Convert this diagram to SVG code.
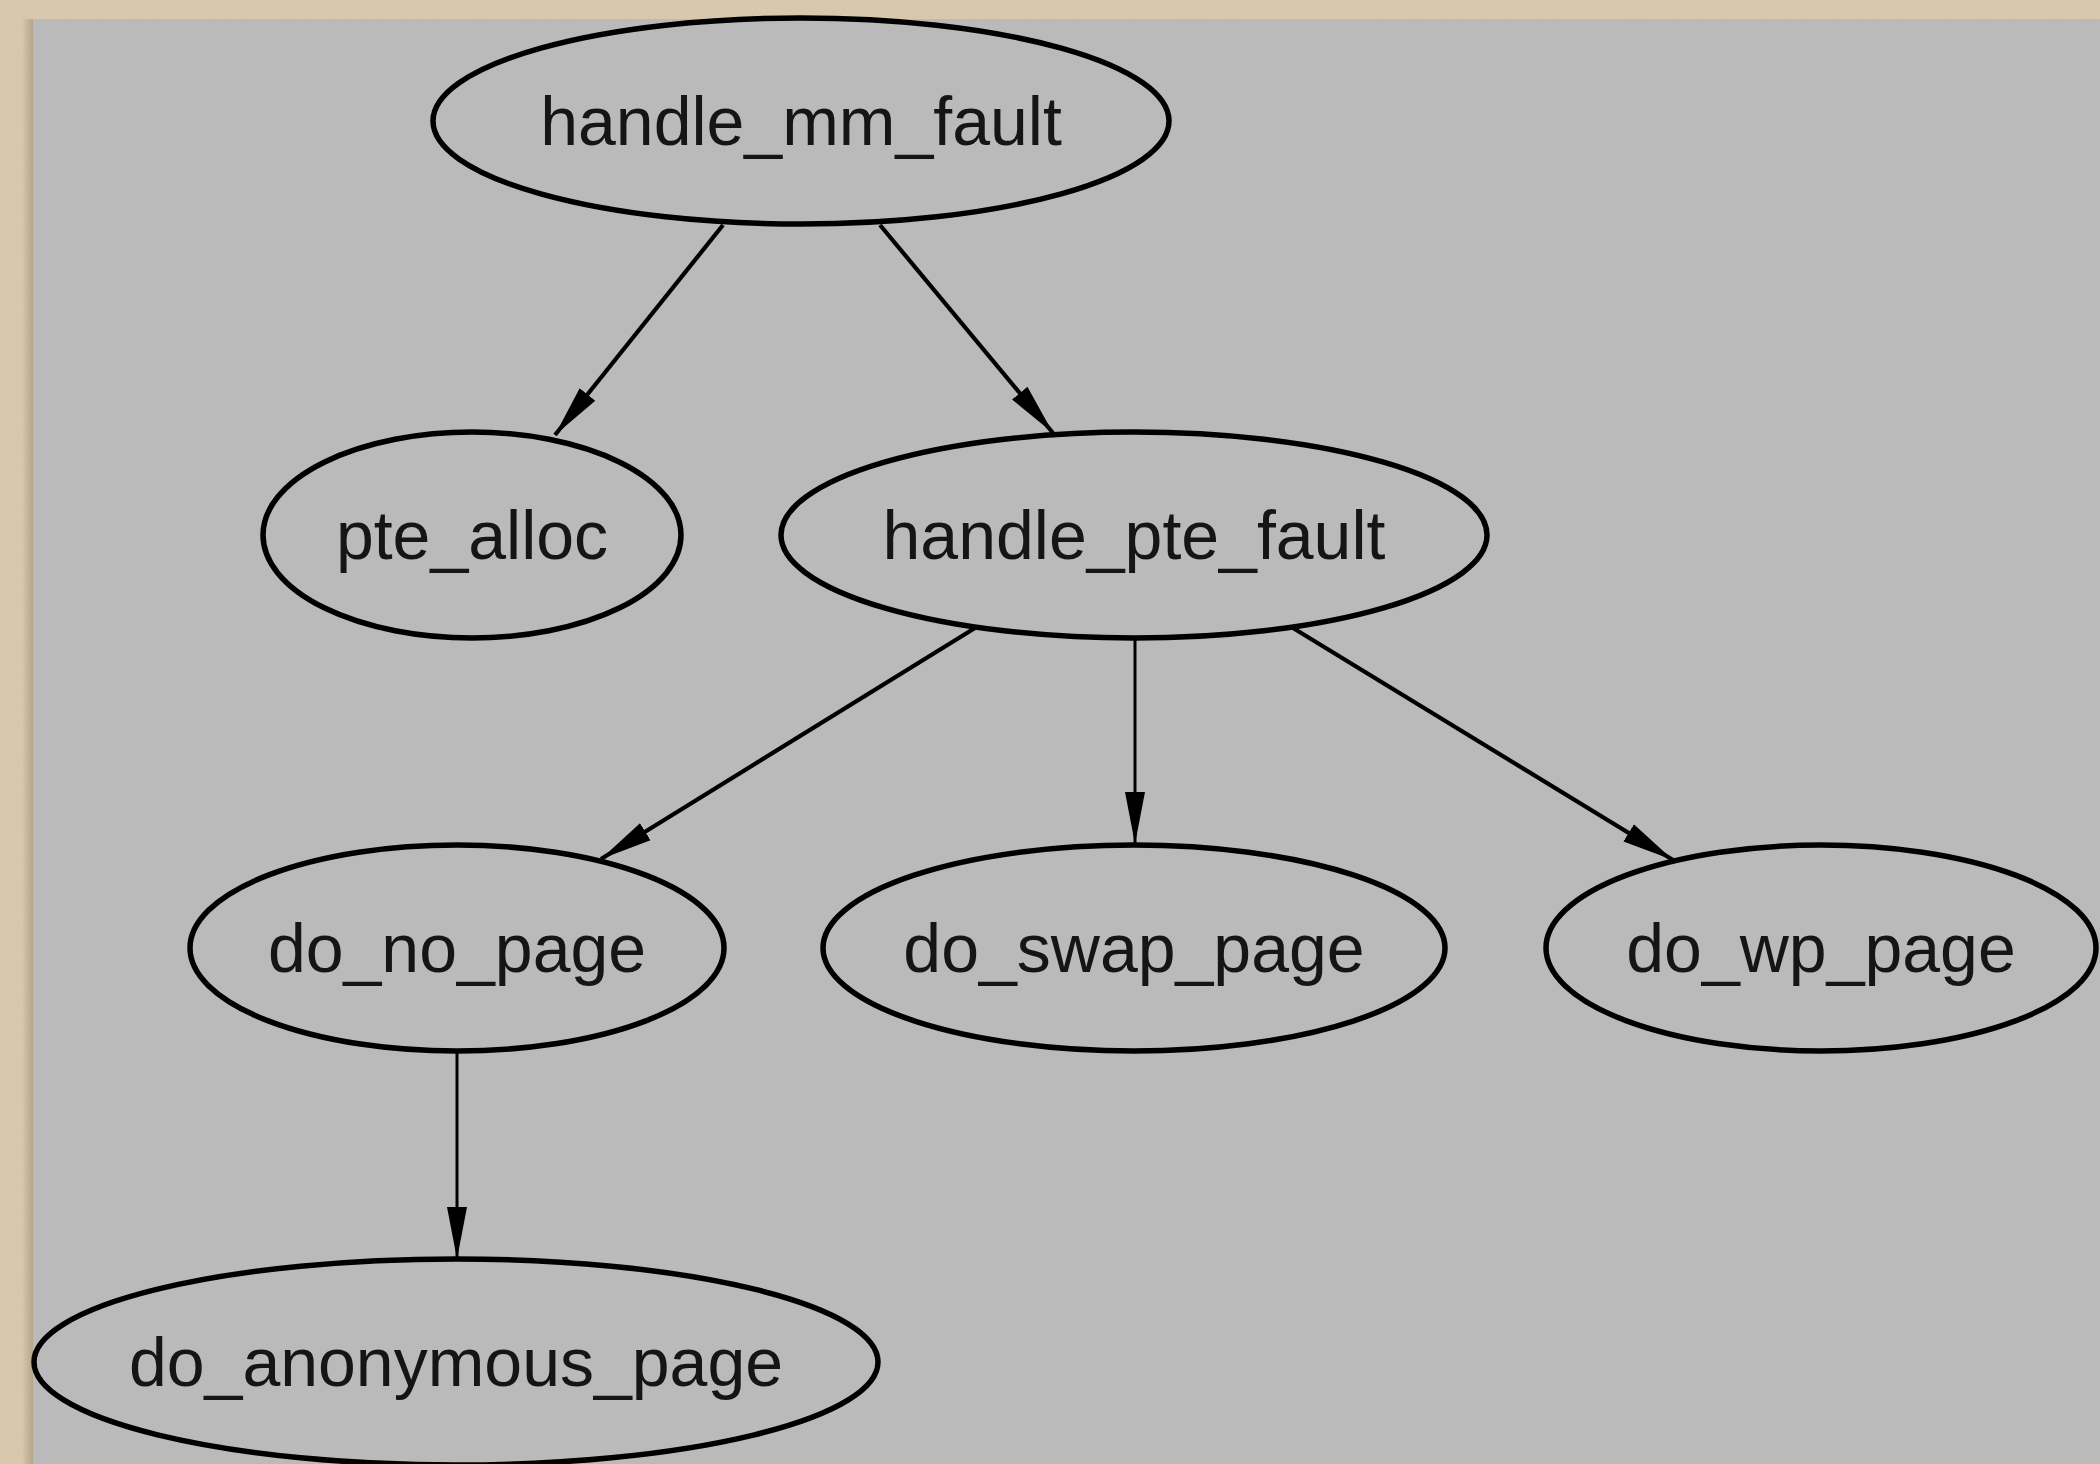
<svg xmlns="http://www.w3.org/2000/svg" width="2100" height="1464" viewBox="0 0 2100 1464">
<style>
.node ellipse{fill:none;stroke:#000;stroke-width:5.5}
.node text{font-family:"Liberation Sans",Arial,sans-serif;font-size:68px;fill:#151515;text-anchor:middle}
.edge{stroke:#000;stroke-width:4.2;fill:none;marker-end:url(#arr)}
.edge.v{stroke-width:3}
</style>
<defs>
<marker id="arr" markerUnits="userSpaceOnUse" markerWidth="52" markerHeight="24" viewBox="0 0 52 24" refX="52" refY="12" orient="auto">
<path d="M0,2 L52,12 L0,22 z" fill="#000"/>
</marker>
<filter id="grain" x="0" y="0" width="100%" height="100%">
<feTurbulence type="fractalNoise" baseFrequency="0.9" numOctaves="2" seed="3" result="n"/>
<feColorMatrix type="matrix" values="0 0 0 0 0.78  0 0 0 0 0.70  0 0 0 0 0.58  0 0 0 0.35 0" in="n" result="c"/>
<feComposite in="c" in2="SourceGraphic" operator="in"/>
</filter>
<linearGradient id="shL" x1="0" y1="0" x2="1" y2="0">
<stop offset="0" stop-color="#8a7a60" stop-opacity="0"/>
<stop offset="1" stop-color="#8a7a60" stop-opacity="0.45"/>
</linearGradient>
</defs>
<rect x="0" y="0" width="2100" height="1464" fill="#d5c4a6"/>
<rect x="0" y="0" width="2100" height="1464" fill="#d5c4a6" filter="url(#grain)"/>
<rect x="22" y="19" width="11" height="1445" fill="url(#shL)"/>
<rect x="33" y="19" width="2067" height="1445" fill="#bababa"/>
<g id="edges">
<line class="edge" x1="723" y1="225" x2="555" y2="435"/>
<line class="edge" x1="880" y1="225" x2="1053" y2="433"/>
<line class="edge" x1="975" y1="628" x2="601" y2="859"/>
<line class="edge v" x1="1135" y1="638" x2="1135" y2="844"/>
<line class="edge" x1="1293" y1="628" x2="1673" y2="860"/>
<line class="edge v" x1="457" y1="1052" x2="457" y2="1259"/>
</g>
<g id="handle_mm_fault" class="node"><ellipse cx="801" cy="121" rx="368" ry="103"/><text x="801" y="145">handle_mm_fault</text></g>
<g id="pte_alloc" class="node"><ellipse cx="472" cy="535" rx="209" ry="103"/><text x="472" y="559">pte_alloc</text></g>
<g id="handle_pte_fault" class="node"><ellipse cx="1134" cy="535" rx="353" ry="103"/><text x="1134" y="559">handle_pte_fault</text></g>
<g id="do_no_page" class="node"><ellipse cx="457" cy="948" rx="267" ry="103"/><text x="457" y="972">do_no_page</text></g>
<g id="do_swap_page" class="node"><ellipse cx="1134" cy="948" rx="311" ry="103"/><text x="1134" y="972">do_swap_page</text></g>
<g id="do_wp_page" class="node"><ellipse cx="1821" cy="948" rx="275" ry="103"/><text x="1821" y="972">do_wp_page</text></g>
<g id="do_anonymous_page" class="node"><ellipse cx="456" cy="1362" rx="422" ry="103"/><text x="456" y="1386">do_anonymous_page</text></g>
</svg>
